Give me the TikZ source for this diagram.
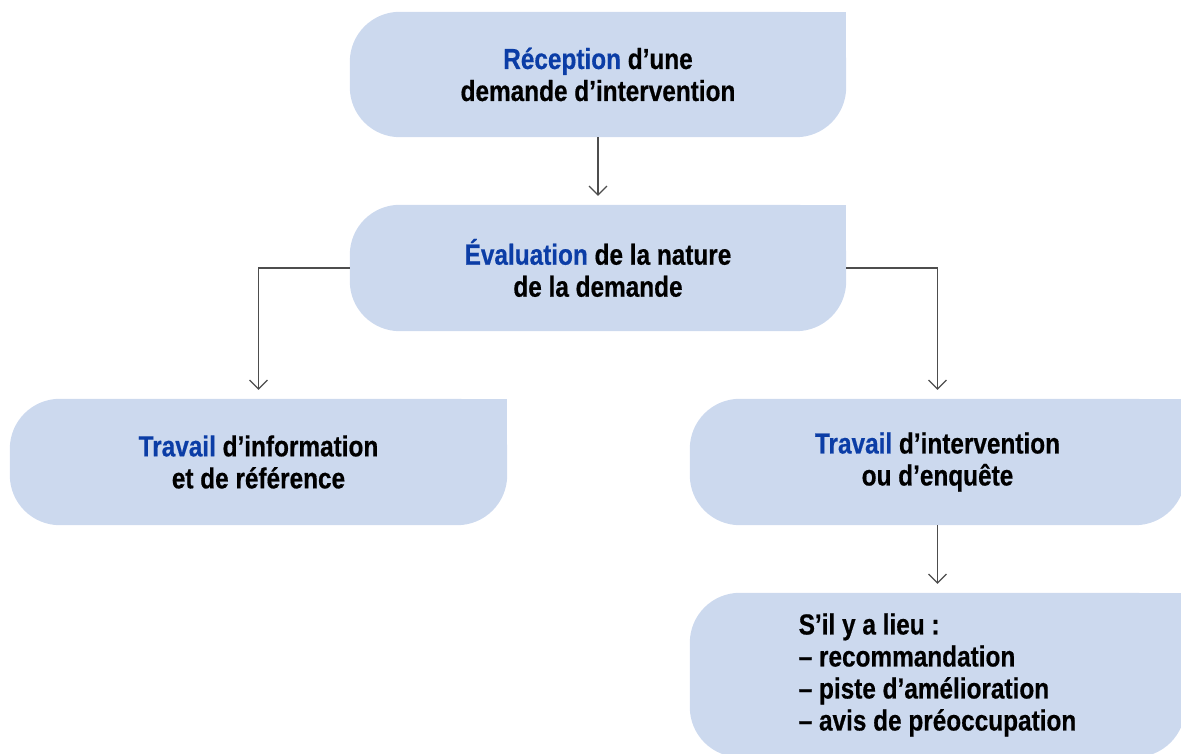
\documentclass[tikz,border=0pt]{standalone}
\usepackage{fontspec}
\setmainfont{Liberation Sans}[FakeStretch=0.84, BoldFeatures={FakeBold=0.5}]
\usetikzlibrary{arrows.meta,backgrounds}
\definecolor{boxfill}{RGB}{204,217,238}
\definecolor{hiblue}{RGB}{11,61,166}
\definecolor{conncol}{RGB}{77,77,77}
\tikzset{
  fbox/.style={rectangle, inner sep=0pt, align=center, font=\fontsize{29}{32}\selectfont\bfseries},
  conn/.style={draw=conncol, line width=1.1pt, -{Straight Barb[length=9pt,width=18pt]}, shorten >=9pt}
}
\newcommand{\hl}[1]{\textcolor{hiblue}{#1}}
\newcommand{\shapefill}[1]{%
  \fill[boxfill, rounded corners=50pt] (#1.north west) rectangle (#1.south east);
  \fill[boxfill] (#1.north east) rectangle ([xshift=-60pt,yshift=-60pt]#1.north east);}
\begin{document}
\begin{tikzpicture}[x=1pt,y=1pt]
\useasboundingbox (0,0) rectangle (1181,754);
\node[fbox, minimum width=496pt, minimum height=125pt] (rec) at (598,679.5) {\hl{Réception} d’une\\demande d’intervention};
\node[fbox, minimum width=496pt, minimum height=126pt] (eval) at (598,486) {\hl{Évaluation} de la nature\\de la demande};
\node[fbox, minimum width=497pt, minimum height=126pt] (info) at (258.5,292) {\hl{Travail} d’information\\et de référence};
\node[fbox, minimum width=495pt, minimum height=126pt] (interv) at (937.5,292) {\hl{Travail} d’intervention\\ou d’enquête};
\node[fbox, minimum width=495pt, minimum height=164pt, align=left] (lieu) at (937.5,79) {S’il y a lieu :\\– recommandation\\– piste d’amélioration\\– avis de préoccupation};
\begin{scope}[on background layer]
  \shapefill{rec}
  \shapefill{eval}
  \shapefill{info}
  \shapefill{interv}
  \shapefill{lieu}
\end{scope}
\draw[conn] (rec.south) -- (eval.north);
\draw[conn] (eval.west) -| (info.north);
\draw[conn] (eval.east) -| (interv.north);
\draw[conn] (interv.south) -- (lieu.north);
\end{tikzpicture}
\end{document}
